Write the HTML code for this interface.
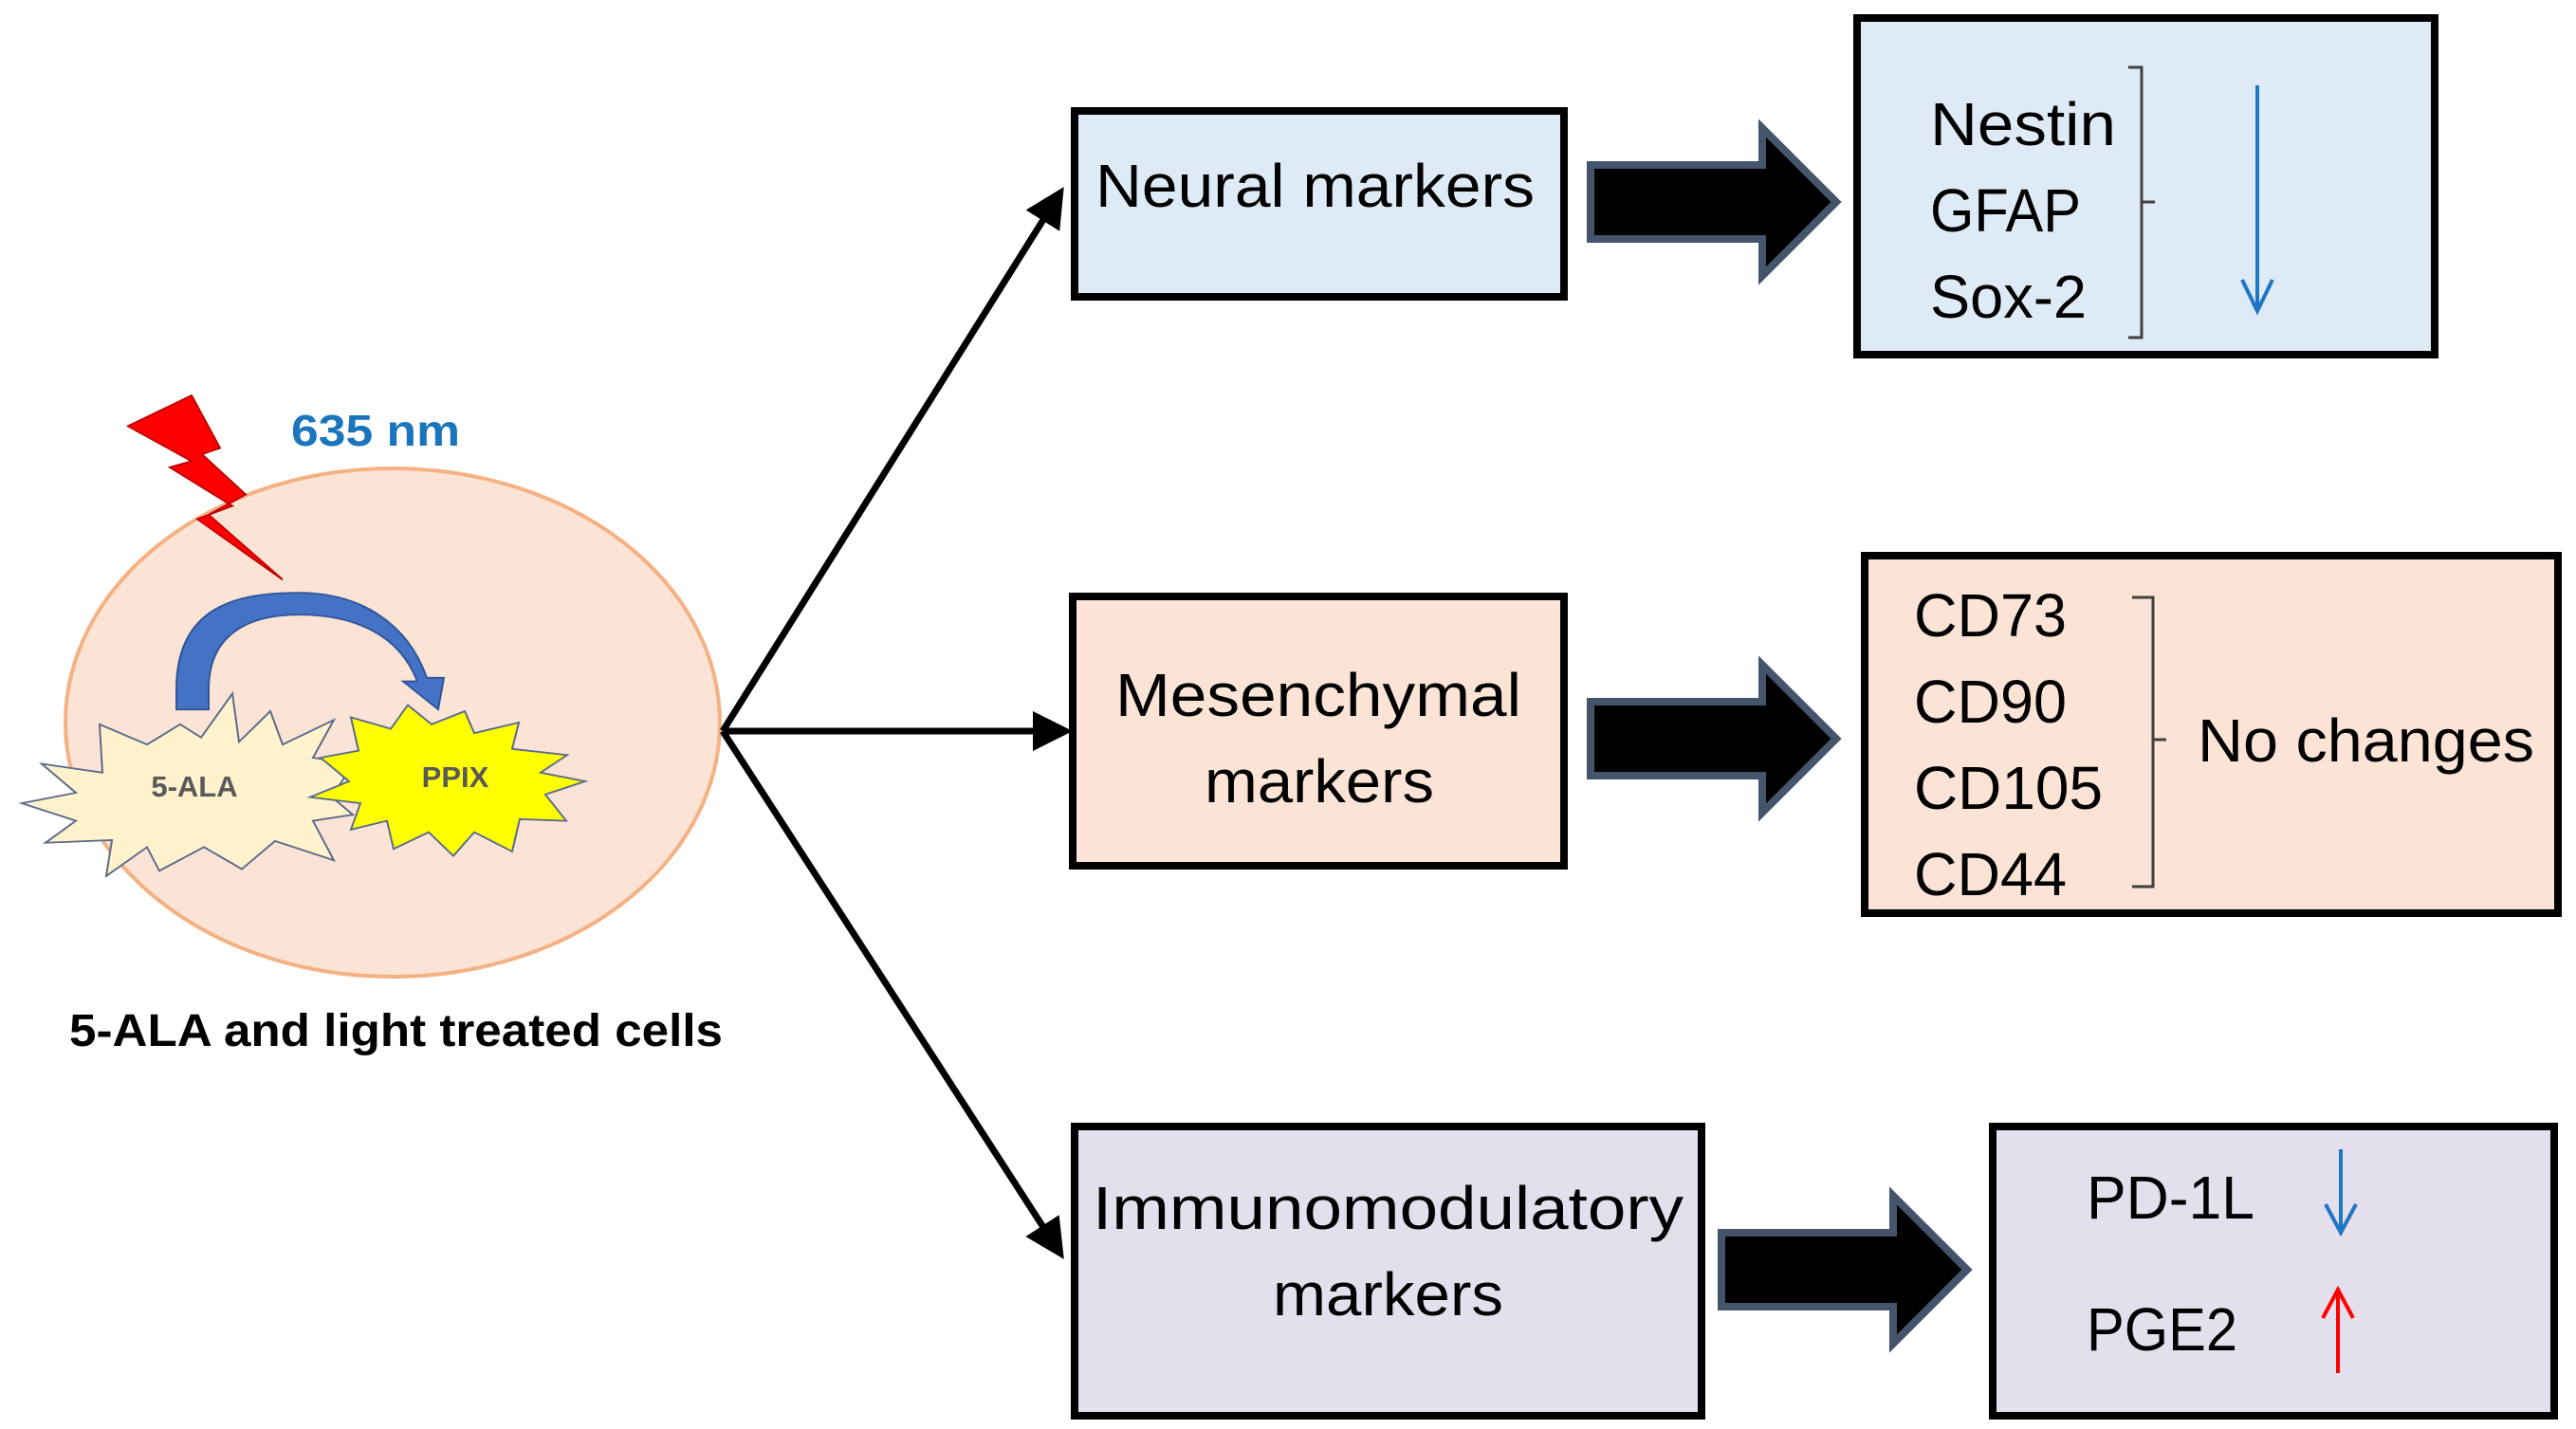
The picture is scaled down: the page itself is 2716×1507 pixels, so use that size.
<!DOCTYPE html>
<html><head><meta charset="utf-8"><style>
html,body{margin:0;padding:0;background:#fff}
svg{display:block}
text{font-family:"Liberation Sans",sans-serif}
</style></head><body>
<svg width="2716" height="1507" viewBox="0 0 2716 1507" xmlns="http://www.w3.org/2000/svg">
<defs>
<marker id="ah" markerWidth="6" markerHeight="6" refX="5" refY="3" orient="auto" markerUnits="strokeWidth"><path d="M0,0 L6,3 L0,6 Z" fill="#000"/></marker>
</defs>
<!-- cell -->
<ellipse cx="414" cy="762" rx="345" ry="268" fill="#fbe4d5" stroke="#f4b183" stroke-width="4"/>
<g transform="translate(0,380) scale(1,0.925) translate(0,-380)">
<!-- lightning -->
<polygon points="135,455 202,420 232,480 213,487 259,533 220,556 298,630 208,561 245,546 179,502 202,495" fill="#ff0000" stroke="#c00000" stroke-width="2"/>
<!-- 5-ALA star -->
<polygon points="23,885 80,873 44,840 108,850 105,795 155,818 190,795 212,810 245,760 252,815 285,780 298,818 352,790 330,833 372,840 350,878 372,898 330,905 352,950 290,928 255,960 215,935 168,962 155,935 112,968 118,927 48,930 80,905" fill="#fff2cc" stroke="#5a6a8a" stroke-width="2"/>
<!-- PPIX star -->
<polygon points="370,787 412,800 430,773 455,795 490,780 500,805 547,793 540,823 598,830 570,850 617,860 575,875 597,905 548,903 540,940 500,918 478,945 452,918 415,937 408,905 370,915 380,885 327,878 368,860 338,833 378,825" fill="#ffff00" stroke="#5a6a8a" stroke-width="2"/>
<!-- curved blue arrow -->
<path d="M186,778 L186,755 C186,660 250,645 315,645 C380,645 430,680 450,742 L468,742 L462,778 L425,746 L440,746 C420,690 370,670 315,670 C265,670 220,690 220,755 L220,778 Z" fill="#4472c4" stroke="#2f5597" stroke-width="2"/>
</g>
<text x="307" y="470" font-size="46" font-weight="bold" fill="#1a75bc" textLength="178" lengthAdjust="spacingAndGlyphs">635 nm</text>
<text x="205" y="840" font-size="31" font-weight="bold" fill="#595959" text-anchor="middle">5-ALA</text>
<text x="480" y="830" font-size="31" font-weight="bold" fill="#595959" text-anchor="middle">PPIX</text>
<text x="73" y="1103" font-size="48" font-weight="bold" fill="#000" textLength="689" lengthAdjust="spacingAndGlyphs">5-ALA and light treated cells</text>
<!-- connectors -->
<g stroke="#000" stroke-width="7" fill="none" marker-end="url(#ah)">
<line x1="762" y1="771" x2="1118" y2="203"/>
<line x1="762" y1="771" x2="1124" y2="771"/>
<line x1="762" y1="771" x2="1118" y2="1322"/>
</g>
<!-- boxes -->
<rect x="1133" y="117" width="516" height="196" fill="#deebf7" stroke="#000" stroke-width="8"/>
<text x="1155" y="218" font-size="64" textLength="463" lengthAdjust="spacingAndGlyphs">Neural markers</text>
<rect x="1131" y="629" width="518" height="284" fill="#fbe4d5" stroke="#000" stroke-width="8"/>
<text x="1176" y="755" font-size="64" textLength="428" lengthAdjust="spacingAndGlyphs">Mesenchymal</text>
<text x="1270" y="846" font-size="64" textLength="242" lengthAdjust="spacingAndGlyphs">markers</text>
<rect x="1133" y="1188" width="661" height="305" fill="#e4dfec" stroke="#000" stroke-width="8"/>
<text x="1152" y="1296" font-size="64" textLength="623" lengthAdjust="spacingAndGlyphs">Immunomodulatory</text>
<text x="1342" y="1387" font-size="64" textLength="243" lengthAdjust="spacingAndGlyphs">markers</text>
<!-- block arrows -->
<g fill="#000" stroke="#44546a" stroke-width="8" stroke-linejoin="miter">
<polygon points="1677,174 1858,174 1858,135 1936,213 1858,291 1858,252 1677,252"/>
<polygon points="1677,740 1858,740 1858,701 1936,779 1858,857 1858,818 1677,818"/>
<polygon points="1815,1300 1996,1300 1996,1261 2074,1339 1996,1417 1996,1378 1815,1378"/>
</g>
<!-- result boxes -->
<rect x="1958" y="19" width="609" height="355" fill="#deebf7" stroke="#000" stroke-width="8"/>
<g font-size="64">
<text x="2035" y="153" textLength="196" lengthAdjust="spacingAndGlyphs">Nestin</text>
<text x="2035" y="244" textLength="159" lengthAdjust="spacingAndGlyphs">GFAP</text>
<text x="2035" y="335" textLength="165" lengthAdjust="spacingAndGlyphs">Sox-2</text>
</g>
<path d="M2244,71 L2258,71 L2258,213 L2272,213 M2258,213 L2258,356 L2244,356" fill="none" stroke="#404040" stroke-width="3"/>
<line x1="2380" y1="90" x2="2380" y2="325" stroke="#1f77c4" stroke-width="4"/>
<polyline points="2364,295 2380,328 2396,295" fill="none" stroke="#1f77c4" stroke-width="4"/>

<rect x="1966" y="586" width="731" height="377" fill="#fbe4d5" stroke="#000" stroke-width="8"/>
<g font-size="64">
<text x="2018" y="671" textLength="161" lengthAdjust="spacingAndGlyphs">CD73</text>
<text x="2018" y="762" textLength="161" lengthAdjust="spacingAndGlyphs">CD90</text>
<text x="2018" y="853" textLength="199" lengthAdjust="spacingAndGlyphs">CD105</text>
<text x="2018" y="944" textLength="161" lengthAdjust="spacingAndGlyphs">CD44</text>
<text x="2317" y="803" textLength="355" lengthAdjust="spacingAndGlyphs">No changes</text>
</g>
<path d="M2248,630 L2270,630 L2270,780 L2284,780 M2270,780 L2270,935 L2248,935" fill="none" stroke="#404040" stroke-width="3"/>

<rect x="2101" y="1188" width="592" height="305" fill="#e4dfec" stroke="#000" stroke-width="8"/>
<g font-size="64">
<text x="2200" y="1285" textLength="177" lengthAdjust="spacingAndGlyphs">PD-1L</text>
<text x="2200" y="1424" textLength="159" lengthAdjust="spacingAndGlyphs">PGE2</text>
</g>
<line x1="2468" y1="1212" x2="2468" y2="1297" stroke="#1f77c4" stroke-width="4"/>
<polyline points="2452,1270 2468,1300 2484,1270" fill="none" stroke="#1f77c4" stroke-width="4"/>
<line x1="2465" y1="1448" x2="2465" y2="1362" stroke="#ff0000" stroke-width="4"/>
<polyline points="2449,1390 2465,1360 2481,1390" fill="none" stroke="#ff0000" stroke-width="4"/>
</svg>
</body></html>
